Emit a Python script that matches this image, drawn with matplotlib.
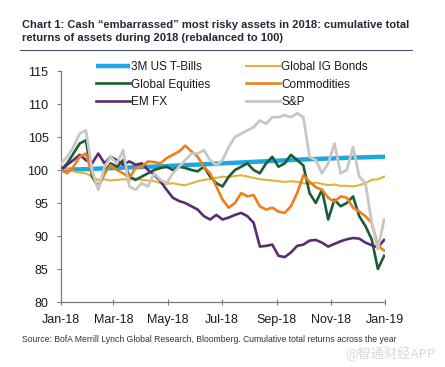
import matplotlib
matplotlib.use("Agg")
import matplotlib.pyplot as plt
import matplotlib.dates as mdates
import pandas as pd

FONT = "Liberation Sans"

# ---- data (weekly) ----
dates = pd.date_range("2018-01-01", periods=53, freq="7D")

tbill_dates = pd.date_range("2018-01-01", periods=13, freq="MS")
tbills = [100.0, 100.15, 100.3, 100.45, 100.6, 100.8, 101.0, 101.2, 101.4, 101.6, 101.75, 101.9, 102.0]

ig_bonds = [100, 100.2, 99.8, 99.6, 99.5, 99.0, 98.5, 98.6, 98.4, 98.5, 98.6, 98.5, 98.7,
            98.5, 98.4, 98.3, 98.0, 97.9, 98.0, 97.8, 97.7, 98.0, 98.3, 98.5, 98.6, 98.8,
            99.0, 98.9, 99.1, 99.2, 99.0, 98.8, 98.6, 98.5, 98.4, 98.3, 98.2, 98.3, 98.2,
            98.0, 97.9, 98.1, 97.9, 97.7, 97.8, 97.6, 97.6, 97.5, 97.7, 98.0, 98.5, 98.6, 99.0]

equities = [100, 101, 102.5, 104, 104.5, 99, 97.5, 99.5, 101, 100.5, 101.5, 99, 98.5,
            99, 99.5, 100, 100.3, 100.5, 100, 100.5, 100.3, 100, 99.8, 100.5, 99, 98,
            97.5, 99, 100, 100.5, 101, 100, 99.5, 101, 102, 100.5, 101, 102.3, 101.5,
            100.7, 96.5, 95, 97, 92.5, 95.5, 94.5, 95, 96, 93, 91.5, 89.5, 85, 87]

commodities = [100, 99.5, 100.5, 102, 102.5, 99.5, 97.3, 99.5, 100.7, 100, 99.5, 98.8, 100.3,
               100.5, 101.3, 101.2, 101, 101.8, 102.3, 102.8, 103.7, 102.8, 102, 100.5, 99.5, 97.5,
               95.5, 94.3, 95, 96.5, 96, 96.2, 94.5, 94, 94.3, 93.7, 93.5, 94.5, 96.5,
               99.2, 98.2, 97.4, 97, 95.8, 95.2, 96, 95.8, 94.3, 93.7, 93, 92, 88.5, 87.8]

em_fx = [100, 100.8, 101.5, 102.3, 101.5, 101, 102.5, 101, 102, 101.5, 100.8, 101.3, 100.8,
         101, 100, 99.3, 98.3, 97, 95.8, 95.3, 95, 94.5, 94, 93, 92.5, 93.2,
         92.5, 92.8, 93.2, 93.5, 93, 92, 88.4, 88.5, 88.7, 87, 86.8, 87.5, 88.5,
         88.7, 89.3, 89.4, 89, 88.4, 88.8, 89.2, 89.5, 89.7, 89.6, 89, 88.6, 88.3, 89.4]

snp = [101, 102, 103.5, 105.5, 106, 100, 97, 100.5, 102, 101, 103, 97.5, 97,
       98, 97.5, 99.5, 98.5, 98, 99.5, 100.5, 101.5, 102.5, 102.5, 103, 101.5, 100.7,
       101.5, 103.5, 105, 105.5, 106, 106.5, 107.5, 107, 108, 108, 108.3, 108, 108.6,
       108, 102, 101.5, 99.5, 101, 104, 99.5, 100, 103.5, 99, 98, 92, 88, 92.5]

yticks = [80, 85, 90, 95, 100, 105, 110, 115]

title = ("Chart 1: Cash \u201cembarrassed\u201d most risky assets in 2018: cumulative total\n"
         "returns of assets during 2018 (rebalanced to 100)")
source = "Source: BofA Merrill Lynch Global Research, Bloomberg. Cumulative total returns across the year"

# ---- figure ----
fig = plt.figure(figsize=(4.45, 3.67), dpi=100)
fig.patch.set_facecolor("white")
ax = fig.add_axes([61/445, 1-302/367, (385-61)/445, (302-71)/367])

l_tb, = ax.plot(tbill_dates, tbills, color="#1ea7e1", lw=3.2, solid_capstyle="butt", zorder=2)
l_ig, = ax.plot(dates, ig_bonds, color="#e2b33c", lw=1.5, zorder=3)
l_eq, = ax.plot(dates, equities, color="#1d5c36", lw=1.9, zorder=4)
l_co, = ax.plot(dates, commodities, color="#ef7f1a", lw=1.9, zorder=5)
l_em, = ax.plot(dates, em_fx, color="#5a2d6e", lw=1.9, zorder=4)
l_sp, = ax.plot(dates, snp, color="#c9c7c4", lw=2.0, zorder=6)

ax.set_xlim(pd.Timestamp("2018-01-01"), pd.Timestamp("2019-01-01"))
ax.set_ylim(80, 115)
ax.set_yticks(yticks)
ax.xaxis.set_major_locator(mdates.MonthLocator(bymonth=[1, 3, 5, 7, 9, 11]))
ax.xaxis.set_major_formatter(mdates.DateFormatter("%b-%y"))

for s in ["top", "right"]:
    ax.spines[s].set_visible(False)
for s in ["left", "bottom"]:
    ax.spines[s].set_color("#7a7a7a")
    ax.spines[s].set_linewidth(0.9)
ax.tick_params(axis="y", direction="out", length=3, color="#7a7a7a", labelsize=9, pad=6)
ax.tick_params(axis="x", direction="inout", length=5, color="#7a7a7a", labelsize=9, pad=6)
for lab in ax.get_xticklabels() + ax.get_yticklabels():
    lab.set_fontfamily(FONT)
    lab.set_color("#1a1a1a")

leg = ax.legend([l_tb, l_eq, l_em, l_ig, l_co, l_sp],
                ["3M US T-Bills", "Global Equities", "EM FX",
                 "Global IG Bonds", "Commodities", "S&P"],
                ncol=2, loc="upper left", bbox_to_anchor=(0.075, 1.088),
                frameon=False, handlelength=2.9, handletextpad=0.1,
                columnspacing=3.0, labelspacing=0.45,
                prop={"family": FONT, "size": 8.5})
for t in leg.get_texts():
    t.set_color("#1a1a1a")

fig.text(22/445, 1-20/367, title, ha="left", va="top", fontsize=8.0,
         fontweight="bold", family=FONT, color="#1f2a36", linespacing=1.35)
fig.add_artist(plt.Line2D([20/445, 412/445], [1-50/367, 1-50/367],
                          color="#44546a", lw=0.8, transform=fig.transFigure))
fig.text(22/445, 1-340/367, source, ha="left", va="center", fontsize=6.2,
         family=FONT, color="#333333")
fig.text(436/445, 1-354/367, "@智通财经APP", ha="right", va="center", fontsize=9.5,
         family=["Noto Sans CJK SC", "DejaVu Sans"], color="#d8d8d8")

fig.savefig("out.png", dpi=100, facecolor="white")
